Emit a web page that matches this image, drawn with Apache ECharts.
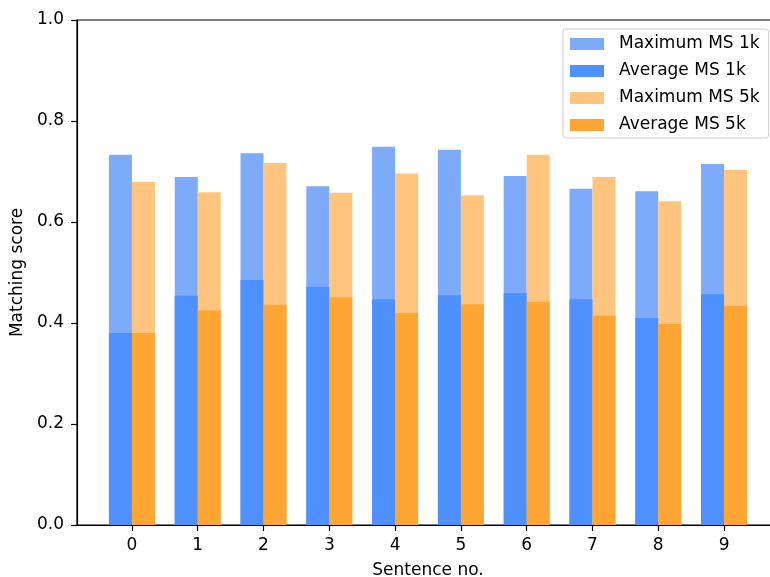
<!DOCTYPE html>
<html>
<head>
<meta charset="utf-8">
<script src="https://cdn.jsdelivr.net/npm/echarts@6/dist/echarts.min.js"></script>
<style>
  html, body { margin: 0; padding: 0; background: #fff; }
  #chart { width: 770px; height: 577px; }
</style>
</head>
<body>
<div id="chart"></div>
<script>
// Sentence indices on the x axis
const sentences = [0, 1, 2, 3, 4, 5, 6, 7, 8, 9];

// Matching scores per sentence
const maxMS1k = [0.733, 0.689, 0.736, 0.671, 0.749, 0.743, 0.691, 0.666, 0.661, 0.715];
const avgMS1k = [0.380, 0.454, 0.485, 0.472, 0.447, 0.455, 0.459, 0.447, 0.410, 0.457];
const maxMS5k = [0.679, 0.659, 0.717, 0.658, 0.696, 0.653, 0.733, 0.689, 0.641, 0.703];
const avgMS5k = [0.380, 0.425, 0.436, 0.451, 0.420, 0.437, 0.442, 0.415, 0.398, 0.434];

// Y-axis tick values
const yTicks = [0, 0.2, 0.4, 0.6, 0.8, 1.0];

const FONT = 'DejaVu Sans';
const FS = 17;

const chart = echarts.init(document.getElementById('chart'), null, { renderer: 'canvas' });

const pairs = arr => sentences.map((s, i) => [s, arr[i]]);

const xAxisBase = {
  type: 'value',
  min: -0.835,
  max: 9.835,
  splitLine: { show: false }
};

const option = {
  backgroundColor: '#ffffff',
  animation: false,
  textStyle: { fontFamily: FONT },
  grid: {
    left: 77,
    right: -9,
    top: 20,
    bottom: 52,
    outerBoundsMode: 'none',
    containLabel: false,
    show: true,
    borderColor: '#000',
    borderWidth: 1.2,
    backgroundColor: 'transparent'
  },
  legend: {
    orient: 'vertical',
    left: 563,
    top: 29,
    padding: [5, 9, 3, 7],
    itemWidth: 34,
    itemHeight: 12,
    itemGap: 7,
    backgroundColor: '#ffffff',
    borderColor: '#cccccc',
    borderWidth: 1,
    borderRadius: 3,
    icon: 'rect',
    textStyle: {
      fontFamily: FONT,
      fontSize: FS,
      lineHeight: 20,
      color: '#000',
      padding: [0, 0, 0, 10]
    },
    data: ['Maximum MS 1k', 'Average MS 1k', 'Maximum MS 5k', 'Average MS 5k']
  },
  xAxis: [
    Object.assign({}, xAxisBase, {
      name: 'Sentence no.',
      nameLocation: 'middle',
      nameGap: 37,
      nameTextStyle: { fontFamily: FONT, fontSize: FS, color: '#000' },
      axisLine: { show: true, onZero: false, lineStyle: { color: '#000', width: 1.2 } },
      axisTick: {
        show: true, length: 6, inside: false,
        customValues: sentences,
        lineStyle: { color: '#000', width: 1.2 }
      },
      axisLabel: {
        show: true, margin: 12,
        customValues: sentences,
        fontFamily: FONT, fontSize: FS, color: '#000'
      }
    }),
    Object.assign({}, xAxisBase, { show: false })
  ],
  yAxis: {
    type: 'value',
    min: 0,
    max: 1,
    interval: 0.2,
    name: 'Matching score',
    nameLocation: 'middle',
    nameGap: 44,
    nameTextStyle: { fontFamily: FONT, fontSize: FS, color: '#000' },
    splitLine: { show: false },
    axisLine: { show: true, onZero: false, lineStyle: { color: '#000', width: 1.2 } },
    axisTick: { show: true, length: 6, inside: false, lineStyle: { color: '#000', width: 1.2 } },
    axisLabel: {
      margin: 13,
      customValues: yTicks,
      fontFamily: FONT, fontSize: FS, color: '#000',
      formatter: v => v.toFixed(1)
    }
  },
  series: [
    {
      name: 'Maximum MS 1k', type: 'bar', xAxisIndex: 0,
      barWidth: 23, barGap: '0%',
      itemStyle: { color: '#7eabf9' },
      data: pairs(maxMS1k)
    },
    {
      name: 'Maximum MS 5k', type: 'bar', xAxisIndex: 0,
      barWidth: 23, barGap: '0%',
      itemStyle: { color: '#ffc57e' },
      data: pairs(maxMS5k)
    },
    {
      name: 'Average MS 1k', type: 'bar', xAxisIndex: 1,
      barWidth: 23, barGap: '0%',
      itemStyle: { color: '#4d90fe' },
      data: pairs(avgMS1k)
    },
    {
      name: 'Average MS 5k', type: 'bar', xAxisIndex: 1,
      barWidth: 23, barGap: '0%',
      itemStyle: { color: '#ffa534' },
      data: pairs(avgMS5k)
    }
  ]
};

chart.setOption(option);
</script>
</body>
</html>
